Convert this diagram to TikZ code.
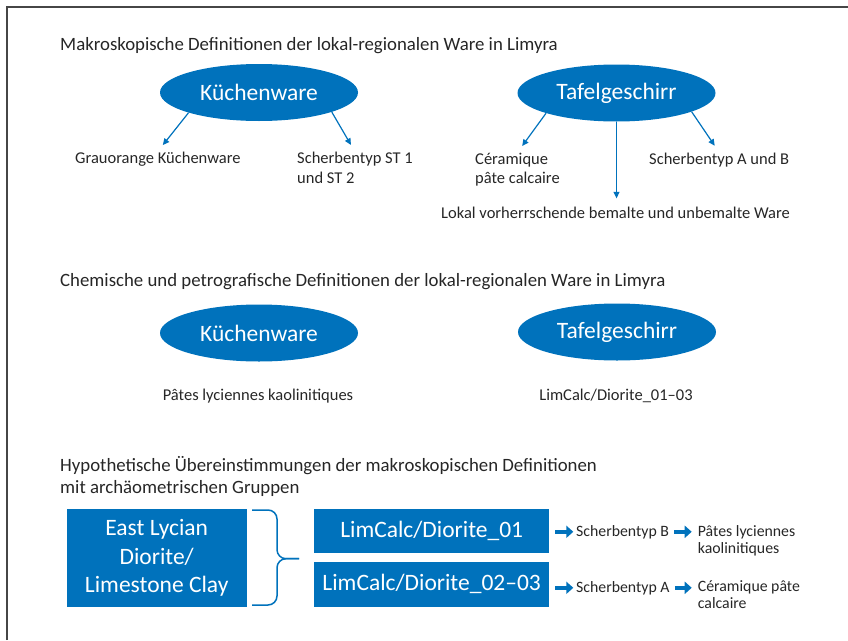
\documentclass[tikz,border=0pt]{standalone}
\usepackage{fontspec}
\setmainfont{Carlito}
\usetikzlibrary{shapes.geometric,arrows.meta}
\definecolor{lmblue}{RGB}{0,114,188}
\definecolor{lmtext}{RGB}{38,38,38}
\definecolor{lmframe}{RGB}{70,70,70}

\begin{document}
\begin{tikzpicture}[x=1pt,y=-1pt,
  headline/.style={anchor=base west,inner sep=0,text=lmtext,align=left,font=\fontsize{18.8}{22}\selectfont},
  lbl/.style={anchor=base west,inner sep=0,text=lmtext,align=left,font=\fontsize{16.5}{19.5}\selectfont},
  minilbl/.style={anchor=base west,inner sep=0,text=lmtext,align=left,font=\fontsize{15.8}{17}\selectfont},
  ware/.style={ellipse,fill=lmblue,text=white,minimum width=198pt,minimum height=57pt,inner sep=0,font=\fontsize{23.5}{23.5}\selectfont},
  groupbox/.style={rectangle,fill=lmblue,text=white,inner sep=0,align=center,font=\fontsize{23.5}{28.4}\selectfont},
  thinarr/.style={draw=lmblue,line width=1.2pt,-{Triangle[length=6.5pt,width=6pt]}},
  blockarr/.style={draw=lmblue,line width=4.5pt,-{Triangle[length=7pt,width=12pt]}}]
\useasboundingbox (0,0) rectangle (848,640); %page size
\draw[lmframe,line width=2pt] (7,640) -- (7,7) -- (848,7); %frame top and left

%Makroskopische Definitionen
\node[headline] (head1) at (60,50) {Makroskopische Definitionen der lokal-regionalen Ware in Limyra};
\node[ware] (kuche) at (259,92.5) {Küchenware};
\node[ware] (tafel) at (616.5,93) {Tafelgeschirr};
\node[lbl] (grau) at (75,163) {Grauorange Küchenware};
\node[lbl] (stlab) at (297,183) {Scherbentyp ST 1\\und ST 2}; %base = last line
\node[lbl] (ceram) at (475,183.5) {Céramique\\pâte calcaire};
\node[lbl] (abtyp) at (649,164) {Scherbentyp A und B};
\node[lbl] (lokal) at (441,218) {Lokal vorherrschende bemalte und unbemalte Ware};
\draw[thinarr,shorten >=8pt] (kuche.196) -- (grau.north);
\draw[thinarr,shorten >=8pt] (kuche.-15) -- (stlab.north);
\draw[thinarr,shorten >=8pt] (tafel.196) -- (ceram.north);
\draw[thinarr,shorten >=8pt] (tafel.-14) -- (abtyp.north);
\draw[thinarr,shorten >=8pt] (tafel.south) -- (tafel.south |- lokal.north);

%Chemische und petrografische Definitionen
\node[headline] (head2) at (60,286) {Chemische und petrografische Definitionen der lokal-regionalen Ware in Limyra};
\node[ware] (kuche2) at (259,333) {Küchenware};
\node[ware] (tafel2) at (617,332) {Tafelgeschirr};
\node[lbl,anchor=base] (paetes) at (258,400) {Pâtes lyciennes kaolinitiques};
\node[lbl,anchor=base] (lim0103) at (616,400) {LimCalc/Diorite\_01–03};

%Hypothetische Uebereinstimmungen
\node[headline] (head3) at (60,493) {Hypothetische Übereinstimmungen der makroskopischen Definitionen\\mit archäometrischen Gruppen};
\node[groupbox,minimum width=180pt,minimum height=97.7pt] (lyc) at (156.7,557.8) {East Lycian\\Diorite/\\Limestone Clay};
\node[groupbox,minimum width=235.3pt,minimum height=44pt] (lc01) at (431.7,531.3) {LimCalc/Diorite\_01};
\node[groupbox,minimum width=235.3pt,minimum height=44.7pt] (lc0203) at (431.7,584.3) {LimCalc/Diorite\_02–03};
\draw[lmblue,line width=1.5pt,rounded corners=9pt] (252,510) -- (277,510) -- (277,558.7) -- (299,558.7); %brace top
\draw[lmblue,line width=1.5pt,rounded corners=9pt] (252,605) -- (277,605) -- (277,558.7) -- (299,558.7); %brace bottom
\node[minilbl] (sb) at (576,536) {Scherbentyp B};
\node[minilbl] (pl) at (697.7,553.3) {Pâtes lyciennes\\kaolinitiques};
\node[minilbl] (sa) at (576,592) {Scherbentyp A};
\node[minilbl] (cp) at (697.7,608.3) {Céramique pâte\\calcaire};
\draw[blockarr,shorten <=5.7pt,shorten >=2.7pt] (lc01.east |- sb.west) -- (sb.west);
\draw[blockarr,shorten <=5pt,shorten >=6pt] (sb.east) -- (sb.east -| pl.west);
\draw[blockarr,shorten <=5.7pt,shorten >=2.7pt] (lc0203.east |- sa.west) -- (sa.west);
\draw[blockarr,shorten <=5pt,shorten >=6pt] (sa.east) -- (sa.east -| cp.west);
\end{tikzpicture}
\end{document}
